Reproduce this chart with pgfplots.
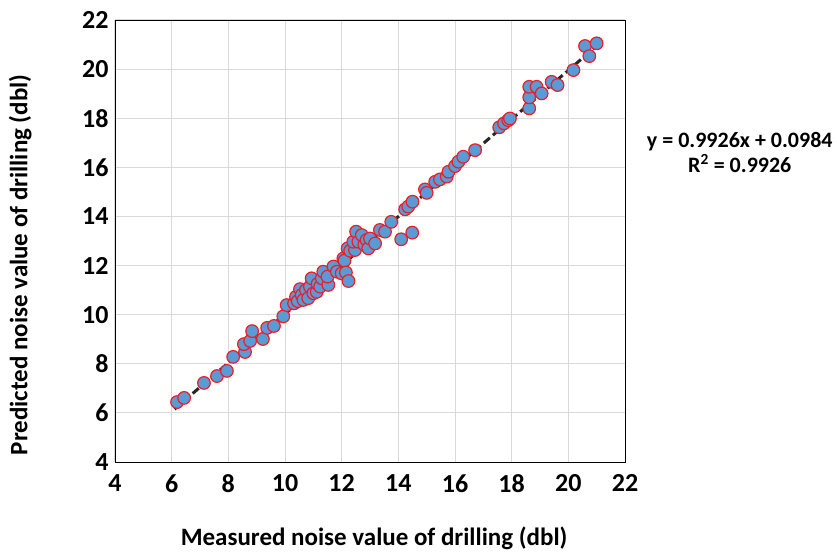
\documentclass[border=0pt]{standalone}
\usepackage{fontspec}
\setmainfont{Carlito}
\usepackage{pgfplots}
\pgfplotsset{compat=1.18}
\definecolor{mk}{RGB}{91,155,213}
\definecolor{mkedge}{RGB}{235,30,40}
\definecolor{gridc}{RGB}{217,217,217}

\begin{document}
\begin{tikzpicture}
% page = 837 x 552 bp, axis box 510 x 442 bp
\path[use as bounding box] (-115bp,-90bp) rectangle (722bp,462bp);
\begin{axis}[
	name=ax, at={(0,0)}, anchor=south west,
	scale only axis, width=510bp, height=442bp,
	xmin=4, xmax=22, ymin=4, ymax=22,
	xtick={4,6,...,22}, ytick={4,6,...,22},
	grid=major, major grid style={gridc, line width=1bp},
	axis line style={black, line width=0.9bp},
	major tick length=0pt,
	/pgf/number format/assume math mode=true,
	tick label style={font=\fontsize{26bp}{30bp}\selectfont\bfseries},
	xticklabel style={yshift=-9bp},
	yticklabel style={xshift=-3bp},
	xlabel={Measured noise value of drilling (dbl)},
	ylabel={Predicted noise value of drilling (dbl)},
	label style={font=\fontsize{25bp}{30bp}\selectfont\bfseries},
	xlabel style={at={(axis description cs:0.508,-0.172)}, anchor=center},
	ylabel style={at={(axis description cs:-0.186,0.446)}, anchor=center},
	clip=false,
]
\addplot[only marks, mark=*, mark size=6.3bp,
	mark options={fill=mk, draw=mkedge, line width=1.2bp}]
	table {
x y
6.19 6.44
6.44 6.61
7.14 7.22
7.60 7.50
7.95 7.71
8.17 8.28
8.59 8.48
8.55 8.80
8.77 8.93
8.84 9.33
9.22 9.01
9.37 9.46
9.61 9.54
9.94 9.93
10.06 10.39
10.32 10.46
10.39 10.73
10.45 10.55
10.53 11.04
10.59 10.80
10.65 10.60
10.74 11.00
10.82 10.67
10.88 11.14
10.94 11.48
11.00 10.87
11.12 10.93
11.15 11.25
11.24 11.14
11.30 11.48
11.35 11.75
11.53 11.21
11.50 11.55
11.71 11.96
11.83 11.75
12.00 11.68
12.06 12.29
12.10 12.20
12.15 11.72
12.24 11.37
12.21 12.70
12.30 12.60
12.47 12.63
12.41 12.97
12.51 13.38
12.59 12.97
12.71 13.24
12.80 12.85
12.88 13.04
12.94 12.70
13.00 13.10
13.18 12.90
13.35 13.45
13.53 13.38
13.75 13.78
14.10 13.07
14.49 13.34
14.24 14.29
14.35 14.40
14.50 14.60
14.94 15.10
15.00 14.96
15.30 15.41
15.47 15.51
15.71 15.62
15.77 15.82
16.00 16.05
16.12 16.23
16.29 16.43
16.71 16.70
17.56 17.63
17.73 17.79
17.88 17.92
17.94 17.99
18.62 18.40
18.62 18.85
18.62 19.28
18.88 19.28
19.06 19.01
19.41 19.48
19.62 19.35
20.18 19.96
20.59 20.94
20.74 20.53
21.00 21.05
};
% linear trendline y = 0.9926x + 0.0984
\addplot[black!85, line width=3bp, dash pattern=on 8bp off 4bp]
	coordinates {(6.1,6.153) (21.0,20.943)};
\node[align=center, font=\fontsize{22bp}{25bp}\selectfont\bfseries]
	at (rel axis cs:1.225,0.701)
	{y = 0.9926x + 0.0984\\R\textsuperscript{2} = 0.9926};
\end{axis}
\end{tikzpicture}
\end{document}
